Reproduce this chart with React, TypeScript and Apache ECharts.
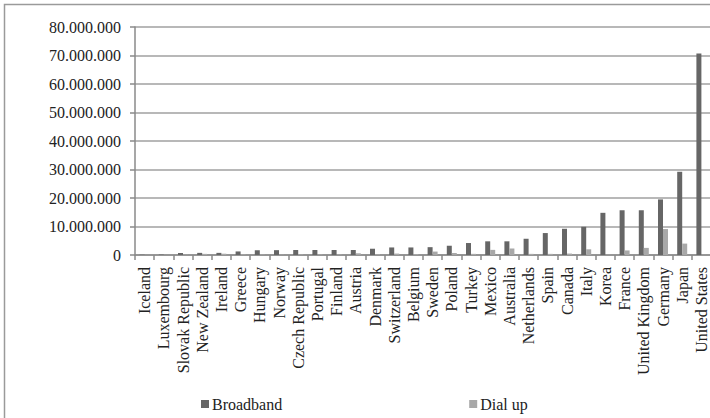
import React, { useEffect, useRef } from "react";
import * as echarts from "echarts";

const countries = [
  "Iceland", "Luxembourg", "Slovak Republic", "New Zealand", "Ireland", "Greece",
  "Hungary", "Norway", "Czech Republic", "Portugal", "Finland", "Austria",
  "Denmark", "Switzerland", "Belgium", "Sweden", "Poland", "Turkey", "Mexico",
  "Australia", "Netherlands", "Spain", "Canada", "Italy", "Korea", "France",
  "United Kingdom", "Germany", "Japan", "United States",
];

const broadband = [
  100000, 150000, 700000, 750000, 750000, 1250000,
  1700000, 1700000, 1750000, 1750000, 1750000, 1750000,
  2200000, 2650000, 2650000, 2750000, 3250000, 4200000, 4800000,
  4800000, 5700000, 7700000, 9200000, 9900000, 14800000, 15700000,
  15700000, 19500000, 29200000, 70700000,
];

const dialup = [
  20000, 20000, 100000, 400000, 450000, 200000,
  150000, 100000, 200000, 200000, 200000, 600000,
  250000, 500000, 300000, 1200000, 700000, 400000, 1800000,
  2300000, 400000, 400000, 500000, 2000000, 100000, 1600000,
  2500000, 9100000, 4000000, 50000,
];

const yMin = 0;
const yMax = 80000000;
const yStep = 10000000;

const seriesNames = ["Broadband", "Dial up"];

const fmt = (v: number) =>
  String(Math.round(v)).replace(/\B(?=(\d{3})+(?!\d))/g, ".");

export default function App() {
  const ref = useRef<HTMLDivElement>(null);
  useEffect(() => {
    if (!ref.current) return;
    const chart = echarts.init(ref.current, null, { renderer: "svg" });
    const font = "'Liberation Serif', 'DejaVu Serif', serif";
    chart.setOption({
      animation: false,
      backgroundColor: "#ffffff",
      textStyle: { fontFamily: font },
      graphic: [
        {
          type: "rect",
          shape: { x: 4.5, y: 4.5, width: 900, height: 600 },
          style: { fill: "none", stroke: "#9a9a9a", lineWidth: 1.5 },
          silent: true,
        },
      ],
      legend: {
        data: seriesNames,
        left: 196,
        top: 391,
        icon: "rect",
        itemWidth: 8,
        itemHeight: 8,
        itemGap: 187,
        textStyle: { fontFamily: font, fontSize: 16, color: "#222", padding: [0, 0, 0, -2] },
      },
      grid: { left: 135, right: 9, top: 27, height: 228, containLabel: false },
      xAxis: {
        type: "category",
        data: countries,
        axisLine: { show: true, lineStyle: { color: "#8a8a8a", width: 1.5 } },
        axisTick: { show: true, length: 5, alignWithLabel: false, lineStyle: { color: "#8a8a8a", width: 1.5 } },
        axisLabel: {
          rotate: 90,
          interval: 0,
          margin: 12,
          fontFamily: font,
          fontSize: 16,
          color: "#222",
        },
      },
      yAxis: {
        type: "value",
        min: yMin,
        max: yMax,
        interval: yStep,
        axisLine: { show: true, lineStyle: { color: "#8a8a8a", width: 1.5 } },
        axisTick: { show: true, length: 5, lineStyle: { color: "#8a8a8a", width: 1.5 } },
        splitLine: { show: true, lineStyle: { color: "#a0a0a0", width: 1.5 } },
        axisLabel: {
          margin: 14,
          fontFamily: font,
          fontSize: 16,
          color: "#222",
          formatter: (v: number) => fmt(v),
        },
      },
      series: [
        {
          name: seriesNames[0],
          type: "bar",
          data: broadband,
          barWidth: 5,
          barGap: "0%",
          itemStyle: { color: "#666666" },
        },
        {
          name: seriesNames[1],
          type: "bar",
          data: dialup,
          barWidth: 5,
          barGap: "0%",
          itemStyle: { color: "#a8a8a8" },
        },
      ],
    });
    return () => chart.dispose();
  }, []);
  return (
    <div
      ref={ref}
      style={{ position: "absolute", left: 0, top: 0, width: 720, height: 418 }}
    />
  );
}
